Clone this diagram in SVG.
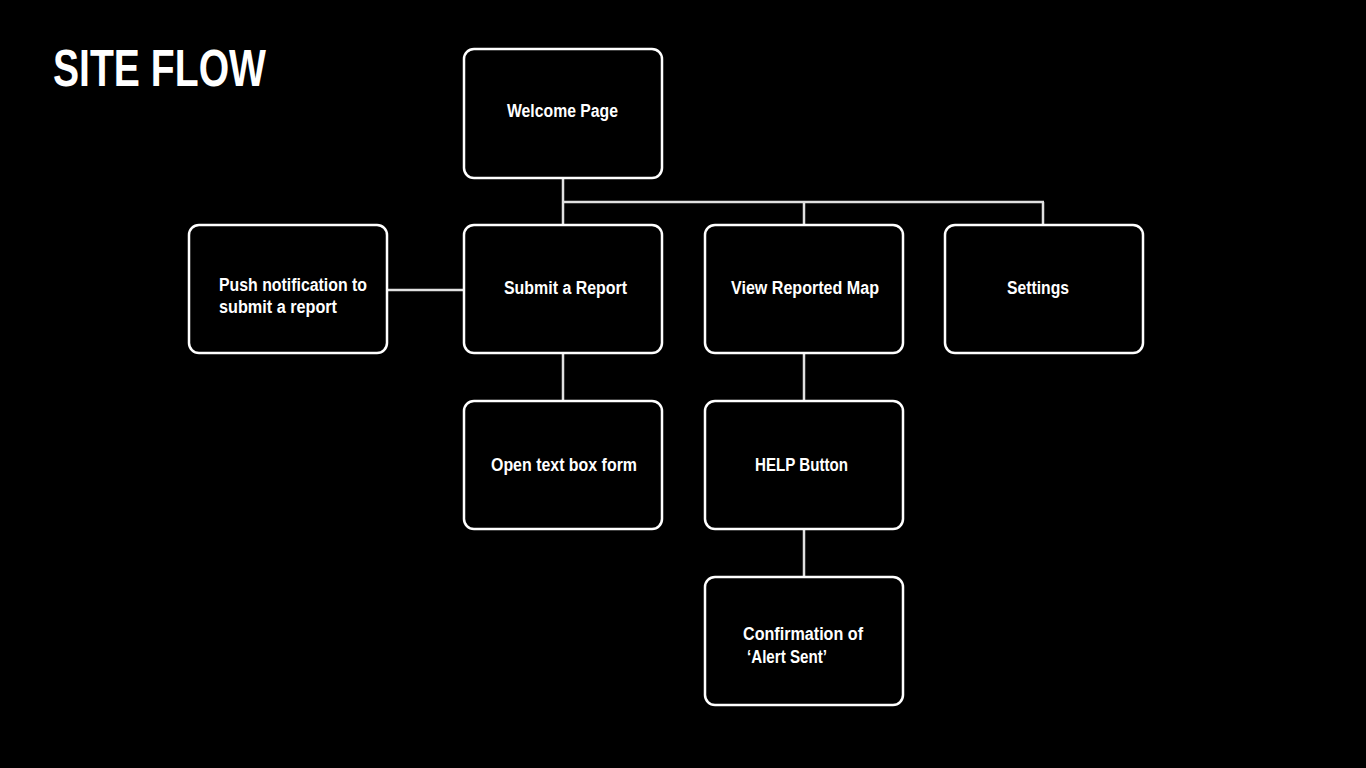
<svg xmlns="http://www.w3.org/2000/svg" width="1366" height="768" viewBox="0 0 1366 768">
<style>
.node rect{fill:#000;stroke:#fff;stroke-width:2.5}
.conn line{stroke:#e0e0e0;stroke-width:2.5}
text{fill:#fff;font-family:"Liberation Sans","Arial",sans-serif;font-weight:bold;font-size:18px}
.title{font-size:52px}
</style>
<rect width="1366" height="768" fill="#000"/>
<text class="title" x="53" y="86" textLength="213" lengthAdjust="spacingAndGlyphs">SITE FLOW</text>
<g class="conn">
<line x1="563" y1="178" x2="563" y2="225"/>
<line x1="562" y1="202" x2="1044" y2="202"/>
<line x1="804" y1="202" x2="804" y2="225"/>
<line x1="1043" y1="202" x2="1043" y2="225"/>
<line x1="387" y1="290" x2="464" y2="290"/>
<line x1="563" y1="353" x2="563" y2="401"/>
<line x1="804" y1="353" x2="804" y2="401"/>
<line x1="804" y1="529" x2="804" y2="577"/>
</g>
<g id="welcome" class="node"><rect x="464" y="49" width="198" height="129" rx="10"/><text x="507" y="117" textLength="111" lengthAdjust="spacingAndGlyphs">Welcome Page</text></g>
<g id="push" class="node"><rect x="189" y="225" width="198" height="128" rx="10"/><text x="219" y="291" textLength="148" lengthAdjust="spacingAndGlyphs">Push notification to</text><text x="219" y="313" textLength="118" lengthAdjust="spacingAndGlyphs">submit a report</text></g>
<g id="submit" class="node"><rect x="464" y="225" width="198" height="128" rx="10"/><text x="504" y="294" textLength="123" lengthAdjust="spacingAndGlyphs">Submit a Report</text></g>
<g id="view" class="node"><rect x="705" y="225" width="198" height="128" rx="10"/><text x="731" y="294" textLength="148" lengthAdjust="spacingAndGlyphs">View Reported Map</text></g>
<g id="settings" class="node"><rect x="945" y="225" width="198" height="128" rx="10"/><text x="1007" y="294" textLength="62" lengthAdjust="spacingAndGlyphs">Settings</text></g>
<g id="opentext" class="node"><rect x="464" y="401" width="198" height="128" rx="10"/><text x="491" y="471" textLength="146" lengthAdjust="spacingAndGlyphs">Open text box form</text></g>
<g id="help" class="node"><rect x="705" y="401" width="198" height="128" rx="10"/><text x="755" y="471" textLength="93" lengthAdjust="spacingAndGlyphs">HELP Button</text></g>
<g id="confirm" class="node"><rect x="705" y="577" width="198" height="128" rx="10"/><text x="743" y="640" textLength="120" lengthAdjust="spacingAndGlyphs">Confirmation of</text><text x="747" y="663" textLength="80" lengthAdjust="spacingAndGlyphs">‘Alert Sent’</text></g>
</svg>
